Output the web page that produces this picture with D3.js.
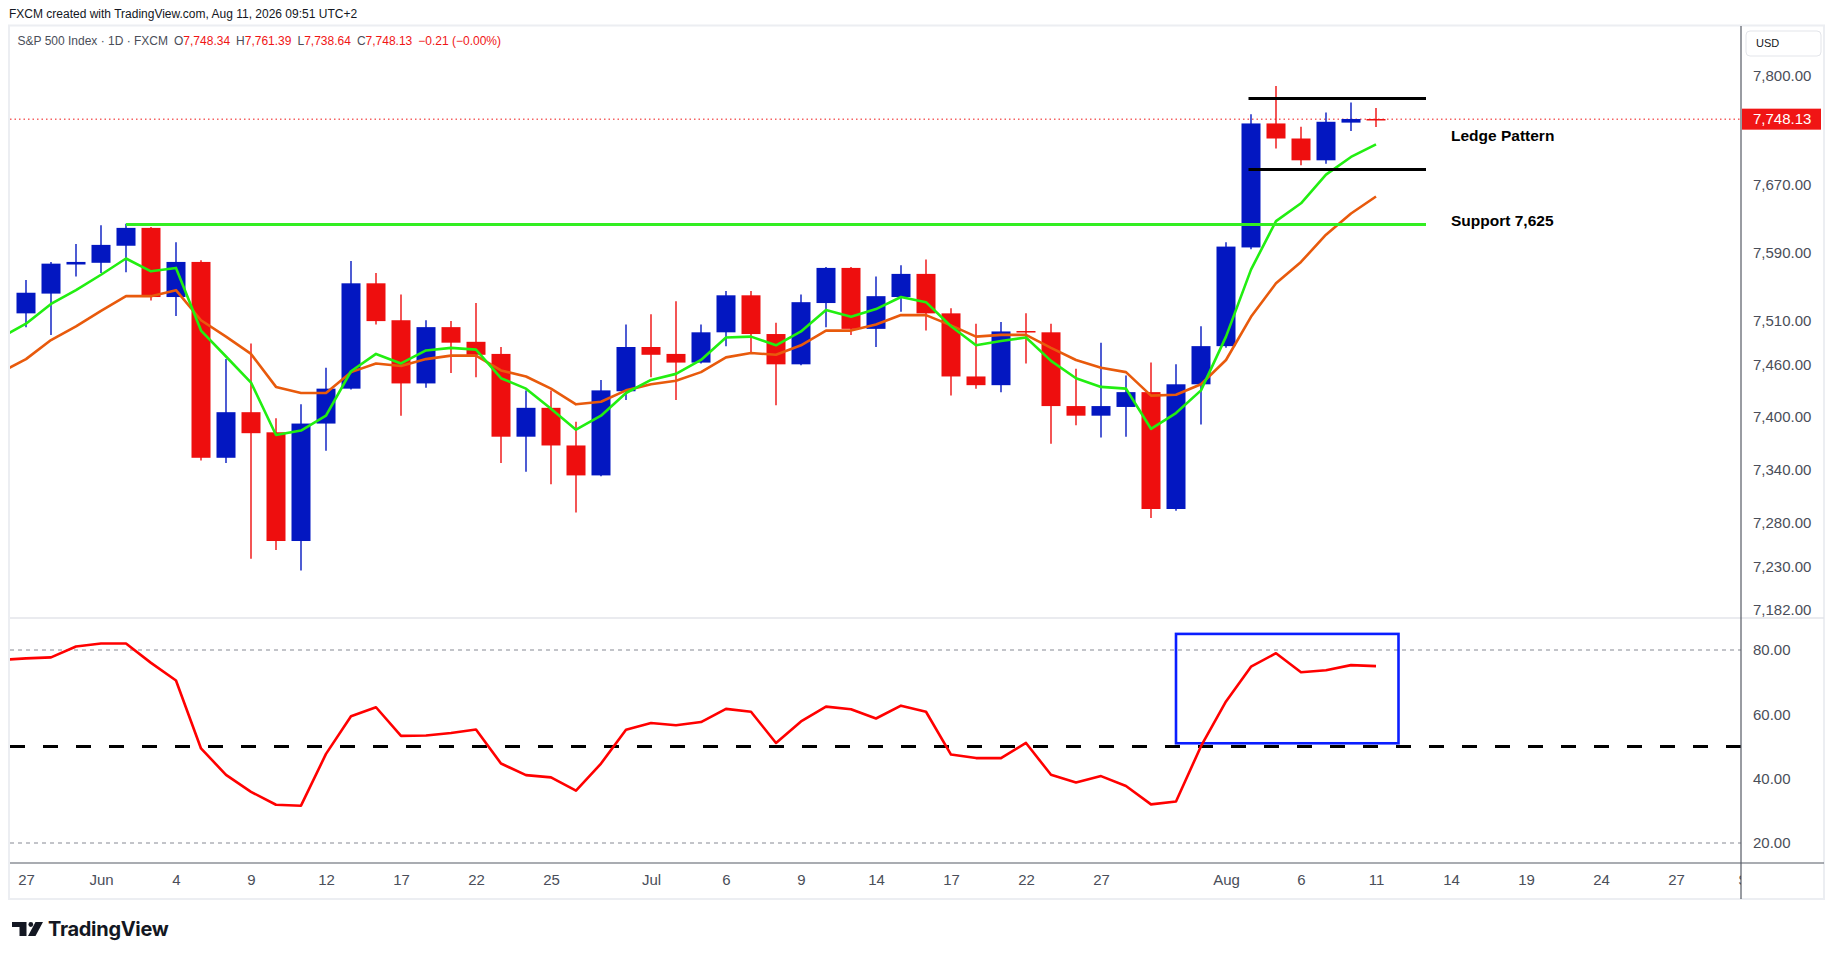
<!DOCTYPE html>
<html>
<head>
<meta charset="utf-8">
<script src="https://d3js.org/d3.v7.min.js"></script>
<style>
  body { margin: 0; background: #fff; }
  svg { display: block; font-family: "Liberation Sans", Arial, sans-serif; }
  .axis text { fill: #4a4e59; font-size: 15px; }
</style>
</head>
<body>
<svg width="1835" height="959"></svg>
<script>
// trading days, first one (May 26) only feeds the indicator lines
var days = ['May 26', 'May 27', 'May 28', 'May 29', 'Jun 1', 'Jun 2', 'Jun 3', 'Jun 4', 'Jun 5',
    'Jun 8', 'Jun 9', 'Jun 10', 'Jun 11', 'Jun 12', 'Jun 15', 'Jun 16', 'Jun 17', 'Jun 18', 'Jun 19',
    'Jun 22', 'Jun 23', 'Jun 24', 'Jun 25', 'Jun 26', 'Jun 29', 'Jun 30', 'Jul 1', 'Jul 2', 'Jul 3',
    'Jul 6', 'Jul 7', 'Jul 8', 'Jul 9', 'Jul 10', 'Jul 13', 'Jul 14', 'Jul 15', 'Jul 16', 'Jul 17',
    'Jul 20', 'Jul 21', 'Jul 22', 'Jul 23', 'Jul 24', 'Jul 27', 'Jul 28', 'Jul 29', 'Jul 30', 'Jul 31',
    'Aug 3', 'Aug 4', 'Aug 5', 'Aug 6', 'Aug 7', 'Aug 10', 'Aug 11'];

var open = [null, 7519, 7542, 7576, 7578, 7598, 7619, 7538, 7579, 7353, 7405, 7382, 7259, 7392, 7432,
    7554, 7511, 7438, 7503, 7486, 7472, 7377, 7410, 7367, 7333, 7429, 7480, 7472, 7462, 7497, 7540,
    7495, 7460, 7531, 7572, 7501, 7538, 7565, 7519, 7446, 7436, 7498.5, 7497, 7412, 7401, 7411, 7428,
    7295, 7437, 7481, 7596, 7743, 7725, 7699, 7744, 7748.34];
var high = [null, 7558, 7579, 7600, 7622, 7624, 7620, 7602, 7581, 7466, 7484, 7398, 7414, 7456, 7580,
    7566, 7541, 7511, 7510, 7531, 7480, 7430, 7430, 7394, 7442, 7506, 7518, 7533, 7506, 7545, 7545,
    7508, 7541, 7573, 7573, 7562, 7575, 7582, 7525, 7507, 7509, 7519, 7507, 7455, 7485, 7447, 7462,
    7460, 7504, 7602, 7754, 7788, 7739, 7756, 7768, 7761.39];
var low = [null, 7503, 7494, 7562, 7566, 7567, 7534, 7516, 7350, 7347, 7239, 7249, 7226, 7361, 7431,
    7506, 7401, 7433, 7450, 7445, 7347, 7337, 7323, 7291, 7332, 7419, 7445, 7419, 7461, 7481, 7473,
    7413, 7459, 7503, 7494, 7480, 7521, 7499, 7424, 7432, 7428, 7461, 7369, 7390, 7376, 7377, 7285,
    7293, 7391, 7479, 7594, 7713, 7693, 7695, 7734, 7738.64];
var close = [null, 7543, 7577, 7579, 7599, 7619, 7538, 7579, 7353, 7405, 7381, 7259, 7392, 7432, 7554,
    7510, 7438, 7503, 7485, 7471, 7377, 7410, 7367, 7333, 7430, 7480, 7471, 7462, 7497, 7540, 7495,
    7460, 7532, 7572, 7501, 7539, 7565, 7519, 7446, 7436, 7498, 7498, 7412, 7401, 7412, 7428, 7295,
    7437, 7481, 7597, 7743, 7725, 7699, 7745, 7748.34, 7748.13];

var maFast = [7491, 7507, 7530, 7546, 7564, 7583, 7568, 7572, 7499, 7469, 7439, 7379, 7384, 7401,
    7452, 7472, 7461, 7476, 7479, 7477, 7444, 7432, 7409, 7385, 7401, 7427, 7442, 7449, 7465, 7491,
    7492, 7482, 7498, 7523, 7515, 7524, 7538, 7532, 7504, 7482, 7487, 7491, 7464, 7444, 7434, 7432,
    7386, 7404, 7430, 7492, 7570, 7627, 7648, 7682, 7703, 7718];
var maSlow = [7451, 7466, 7488, 7504, 7522, 7539, 7539, 7546, 7511, 7492, 7472, 7434, 7427, 7427,
    7451, 7461, 7458, 7466, 7470, 7470, 7453, 7446, 7432, 7414, 7417, 7430, 7437, 7441, 7451, 7468,
    7473, 7471, 7482, 7499, 7499, 7506, 7517, 7517, 7505, 7492, 7494, 7494, 7479, 7465, 7456, 7451,
    7424, 7425, 7437, 7465, 7515, 7554, 7579, 7611, 7636, 7656];
var rsi = [76.9, 77.4, 77.7, 81.1, 82.0, 82.0, 76.0, 70.5, 49.4, 41.2, 35.9, 31.9, 31.6, 47.7, 59.4,
    62.2, 53.3, 53.4, 54.2, 55.3, 44.7, 41.1, 40.4, 36.3, 44.7, 55.2, 57.3, 56.6, 57.6, 61.7, 60.8,
    51.1, 57.8, 62.4, 61.6, 58.7, 62.7, 60.8, 47.5, 46.4, 46.4, 51.1, 41.2, 38.8, 40.8, 37.7, 32.0,
    32.9, 50.1, 64.0, 74.8, 79.0, 73.1, 73.7, 75.3, 75.0];

// bar slots of the time axis labels (slot 0 = May 26)
var timeTickSlots = [1, 4, 7, 10, 13, 16, 19, 22, 26, 29, 32, 35, 38, 41, 44, 49, 52, 55, 58, 61, 64, 67, 70];
var timeTickLabels = ['27', 'Jun', '4', '9', '12', '17', '22', '25', 'Jul', '6', '9', '14', '17', '22', '27',
    'Aug', '6', '11', '14', '19', '24', '27', 'Sep'];
var priceTicks = [7800, 7670, 7590, 7510, 7460, 7400, 7340, 7280, 7230, 7182];
var rsiTicks = [80, 60, 40, 20];

var lastPrice = 7748.13;
var supportLevel = 7623;
var ledgeTop = 7773, ledgeBottom = 7688;
var rsiBox = [47, 55.9, 51, 85]; // slot from, slot to, rsi low, rsi high

var svg = d3.select('svg');
var W = 1835;
var left = 10, right = 1741, priceTop = 26, priceBottom = 618, rsiBottom = 863, frameBottom = 899;

var x = d3.scaleLinear().domain([0, 69.6]).range([1, right]);
var y = d3.scaleLog().domain([7182, 7800]).range([610, 76]);
var yr = d3.scaleLinear().domain([20, 80]).range([843, 650]);

svg.append('rect').attr('width', W).attr('height', 959).attr('fill', '#fff');

var defs = svg.append('defs');
defs.append('clipPath').attr('id', 'pclip').append('rect')
    .attr('x', left).attr('y', priceTop).attr('width', right - left).attr('height', priceBottom - priceTop);
defs.append('clipPath').attr('id', 'rclip').append('rect')
    .attr('x', left).attr('y', priceBottom).attr('width', right - left).attr('height', rsiBottom - priceBottom);
defs.append('clipPath').attr('id', 'tclip').append('rect')
    .attr('x', left).attr('y', rsiBottom).attr('width', right - left).attr('height', frameBottom - rsiBottom);

// header
svg.append('text').attr('x', 9).attr('y', 14).attr('dy', '0.35em')
    .style('font-size', '12px').style('fill', '#131722')
    .text('FXCM created with TradingView.com, Aug 11, 2026 09:51 UTC+2');

// frame
svg.append('rect').attr('x', 9).attr('y', 25.5).attr('width', 1815).attr('height', frameBottom - 25.5)
    .attr('fill', 'none').attr('stroke', '#eceef2').attr('stroke-width', 2);

// legend
var legend = svg.append('text').attr('x', 17.5).attr('y', 41).attr('dy', '0.35em')
    .style('font-size', '12px').style('fill', '#4a4e59');
legend.append('tspan').text('S&P 500 Index \u00b7 1D \u00b7 FXCM');
var red = '#f01515';
[['O', open[55]], ['H', high[55]], ['L', low[55]], ['C', close[55]]].forEach(function (p) {
    legend.append('tspan').attr('dx', 6).text(p[0]);
    legend.append('tspan').style('fill', red).text(d3.format(',.2f')(p[1]));
});
var chg = close[55] - close[54];
var sign = chg < 0 ? '\u2212' : '+';
legend.append('tspan').attr('dx', 6).style('fill', red)
    .text(sign + Math.abs(chg).toFixed(2) + ' (' + sign + Math.abs(chg / close[54] * 100).toFixed(2) + '%)');

// price pane
var pane = svg.append('g').attr('clip-path', 'url(#pclip)');

pane.append('line').attr('x1', left).attr('x2', right)
    .attr('y1', y(lastPrice)).attr('y2', y(lastPrice))
    .attr('stroke', '#f01515').attr('stroke-width', 1).attr('stroke-dasharray', '1.5,3');

var blue = '#0317c1', redC = '#ee0e0e';
var bars = d3.range(days.length).filter(function (i) { return open[i] !== null; });
var candle = pane.selectAll('g.candle').data(bars).enter().append('g')
    .attr('class', 'candle')
    .style('fill', function (i) { return close[i] >= open[i] ? blue : redC; })
    .style('stroke', function (i) { return close[i] >= open[i] ? blue : redC; });
candle.append('line')
    .attr('x1', function (i) { return x(i); }).attr('x2', function (i) { return x(i); })
    .attr('y1', function (i) { return y(high[i]); }).attr('y2', function (i) { return y(low[i]); })
    .attr('stroke-width', 1.4);
candle.append('rect')
    .attr('x', function (i) { return x(i) - 9.5; })
    .attr('width', 19)
    .attr('y', function (i) { return y(Math.max(open[i], close[i])); })
    .attr('height', function (i) { return Math.max(1.5, Math.abs(y(open[i]) - y(close[i]))); })
    .style('stroke', 'none');

var maLine = d3.line().x(function (d, i) { return x(i); }).y(function (d) { return y(d); });
pane.append('path').attr('d', maLine(maSlow)).attr('fill', 'none')
    .attr('stroke', '#e85a0c').attr('stroke-width', 2.6).attr('stroke-linejoin', 'round');
pane.append('path').attr('d', maLine(maFast)).attr('fill', 'none')
    .attr('stroke', '#22ee11').attr('stroke-width', 2.6).attr('stroke-linejoin', 'round');

// drawings
pane.append('line').attr('x1', x(5)).attr('x2', x(57))
    .attr('y1', y(supportLevel)).attr('y2', y(supportLevel))
    .attr('stroke', '#33ee22').attr('stroke-width', 3);
[ledgeTop, ledgeBottom].forEach(function (v) {
    pane.append('line').attr('x1', x(49.9)).attr('x2', x(57))
        .attr('y1', y(v)).attr('y2', y(v))
        .attr('stroke', '#000').attr('stroke-width', 3);
});
pane.append('text').attr('x', x(58)).attr('y', y(7728)).attr('dy', '0.35em')
    .style('font-size', '15.5px').style('font-weight', 'bold').style('fill', '#000')
    .text('Ledge Pattern');
pane.append('text').attr('x', x(58)).attr('y', y(7628)).attr('dy', '0.35em')
    .style('font-size', '15.5px').style('font-weight', 'bold').style('fill', '#000')
    .text('Support 7,625');

// rsi pane
var rp = svg.append('g').attr('clip-path', 'url(#rclip)');
[80, 20].forEach(function (v) {
    rp.append('line').attr('x1', left).attr('x2', right).attr('y1', yr(v)).attr('y2', yr(v))
        .attr('stroke', '#868993').attr('stroke-width', 1).attr('stroke-dasharray', '4,4');
});
rp.append('line').attr('x1', left).attr('x2', right).attr('y1', yr(50)).attr('y2', yr(50))
    .attr('stroke', '#000').attr('stroke-width', 3.2).attr('stroke-dasharray', '15,18');
rp.append('rect').attr('x', x(rsiBox[0])).attr('y', yr(rsiBox[3]))
    .attr('width', x(rsiBox[1]) - x(rsiBox[0])).attr('height', yr(rsiBox[2]) - yr(rsiBox[3]))
    .attr('fill', 'none').attr('stroke', '#0a1eff').attr('stroke-width', 2.6);
var rsiLine = d3.line().x(function (d, i) { return x(i); }).y(function (d) { return yr(d); });
rp.append('path').attr('d', rsiLine(rsi)).attr('fill', 'none')
    .attr('stroke', '#ff0000').attr('stroke-width', 2.6).attr('stroke-linejoin', 'round');

// pane separator and axis lines
svg.append('line').attr('x1', left).attr('x2', 1824).attr('y1', priceBottom).attr('y2', priceBottom)
    .attr('stroke', '#e3e5ea').attr('stroke-width', 1.5);
svg.append('line').attr('x1', left).attr('x2', 1824).attr('y1', rsiBottom).attr('y2', rsiBottom)
    .attr('stroke', '#555a64').attr('stroke-width', 1.2);
svg.append('line').attr('x1', right).attr('x2', right).attr('y1', priceTop).attr('y2', frameBottom)
    .attr('stroke', '#555a64').attr('stroke-width', 1.2);

// price axis
var pa = svg.append('g').attr('class', 'axis').attr('transform', 'translate(' + right + ',0)')
    .call(d3.axisRight(y).tickValues(priceTicks).tickSize(0).tickPadding(12).tickFormat(d3.format(',.2f')));
pa.select('.domain').remove();
var ra = svg.append('g').attr('class', 'axis').attr('transform', 'translate(' + right + ',0)')
    .call(d3.axisRight(yr).tickValues(rsiTicks).tickSize(0).tickPadding(12).tickFormat(d3.format('.2f')));
ra.select('.domain').remove();
svg.selectAll('.axis text').style('font-family', '"Liberation Sans", Arial, sans-serif');

// time axis
var ta = svg.append('g').attr('clip-path', 'url(#tclip)').append('g').attr('class', 'axis')
    .attr('transform', 'translate(0,' + rsiBottom + ')')
    .call(d3.axisBottom(x).tickValues(timeTickSlots).tickSize(0).tickPadding(11)
        .tickFormat(function (d, i) { return timeTickLabels[i]; }));
ta.select('.domain').remove();

// currency box and last price tag
svg.append('rect').attr('x', 1746).attr('y', 31).attr('width', 75).attr('height', 25).attr('rx', 4)
    .attr('fill', '#fff').attr('stroke', '#e3e5ea');
svg.append('text').attr('x', 1756).attr('y', 43.5).attr('dy', '0.35em')
    .style('font-size', '11px').style('fill', '#131722').text('USD');
svg.append('rect').attr('x', right + 1).attr('y', y(lastPrice) - 10.5).attr('width', 79).attr('height', 21)
    .attr('fill', '#f01515');
svg.append('text').attr('x', right + 12).attr('y', y(lastPrice)).attr('dy', '0.35em')
    .style('font-size', '15px').style('fill', '#fff').text(d3.format(',.2f')(lastPrice));

// logo
var logo = svg.append('g').attr('fill', '#131722');
logo.append('path').attr('d', 'M12,922 h14.5 v14 h-7 v-9 h-7.5 z');
logo.append('circle').attr('cx', 30.8).attr('cy', 924.5).attr('r', 2.4);
logo.append('path').attr('d', 'M35.5,922 h7.5 l-7.5,14 h-7.5 z');
svg.append('text').attr('x', 48).attr('y', 929).attr('dy', '0.35em')
    .style('font-family', 'Inter, sans-serif').style('font-size', '20px').style('font-weight', 700)
    .style('letter-spacing', '-0.3px').style('fill', '#131722').text('TradingView');
</script>
</body>
</html>
